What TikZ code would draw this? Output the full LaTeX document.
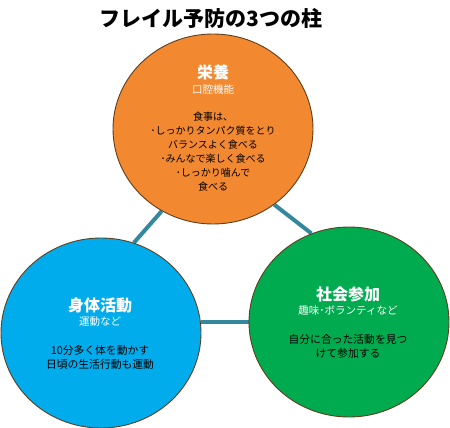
\documentclass[tikz,border=0pt]{standalone}
\usepackage{fontspec}
\setmainfont{Noto Sans CJK JP}
\usetikzlibrary{shapes.geometric,backgrounds}
\definecolor{eiyo}{RGB}{242,136,48}
\definecolor{shintai}{RGB}{0,172,236}
\definecolor{shakai}{RGB}{0,170,78}
\definecolor{rim}{RGB}{95,62,30}
\definecolor{link}{RGB}{52,136,158}
\begin{document}
\begin{tikzpicture}[x=1pt,y=-1pt,
  pillar/.style={ellipse,draw=rim,line width=0.9pt,minimum width=200pt,minimum height=190pt,inner sep=0pt},
  head/.style={text=white,font=\fontsize{16}{18}\selectfont\bfseries,inner sep=0pt},
  sub/.style={text=white,font=\fontsize{10.5}{12}\selectfont,inner sep=0pt},
  body/.style={text=black,align=center,inner sep=0pt},
  connector/.style={draw=link,line width=4pt}]
\useasboundingbox (0,0) rectangle (450,428);
\node[font=\fontsize{21}{24}\selectfont\bfseries,inner sep=0pt] (title) at (211,18) {フレイル予防の3つの柱};
\node[pillar,fill=eiyo] (o) at (213,129) {};
\node[pillar,fill=shintai] (b) at (101,333) {};
\node[pillar,fill=shakai] (g) at (349,322) {};
\begin{pgfonlayer}{background}
\draw[connector] (o.238) -- (b.70);
\draw[connector] (o.309) -- (g.113);
\draw[connector] (g.west) -- (b.east |- g.west);
\end{pgfonlayer}
% orange
\node[head] (oh) at (213,72) {栄養};
\node[sub] (os) at (213,90) {口腔機能};
\node[body,font=\fontsize{10}{14}\selectfont] (ob) at (213,152) {食事は、\\･しっかりタンパク質をとり\\バランスよく食べる\\･みんなで楽しく食べる\\･しっかり噛んで\\食べる};
% blue
\node[head] (bh) at (100,305) {身体活動};
\node[sub] (bs) at (100,322) {運動など};
\node[body,font=\fontsize{10.8}{14}\selectfont] (bb) at (100,357) {10分多く体を動かす\\日頃の生活行動も運動};
% green
\node[head] (gh) at (348,294) {社会参加};
\node[sub] (gs) at (348,311) {趣味･ボランティなど};
\node[body,font=\fontsize{10.8}{13.5}\selectfont] (gb) at (348,346.5) {自分に合った活動を見つ\\けて参加する};
\end{tikzpicture}
\end{document}
